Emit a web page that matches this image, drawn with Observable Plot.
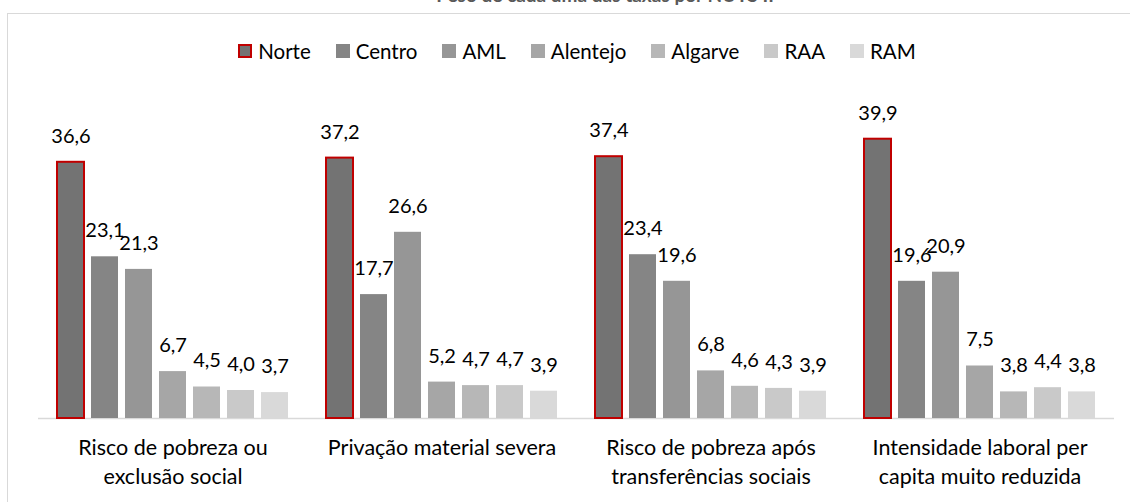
<!DOCTYPE html>
<html>
<head>
<meta charset="utf-8">
<script src="https://cdn.jsdelivr.net/npm/d3@7"></script>
<script src="https://cdn.jsdelivr.net/npm/@observablehq/plot@0.6"></script>
<style>
  html, body { margin: 0; padding: 0; background: #fff; }
  body { width: 1130px; height: 502px; overflow: hidden; position: relative; font-family: Lato, "Open Sans", sans-serif; }
  #frame { position: absolute; left: 7px; top: 13px; width: 1140px; height: 600px; border: 1px solid #d9d9d9; box-sizing: border-box; }
  #title { position: absolute; left: 0; width: 1210px; top: -17px; text-align: center; font-weight: bold; font-size: 19px; color: #595959; }
  #legend { position: absolute; top: 39px; left: 0; width: 1154px; display: flex; justify-content: center; gap: 25px; font-size: 20.5px; color: #000; }
  .item { display: flex; align-items: center; gap: 6px; }
  .sw { width: 14px; height: 14px; display: inline-block; box-sizing: border-box; }
  #chart { position: absolute; left: 0; top: 0; }
</style>
</head>
<body>
<div id="frame"></div>
<div id="title">Peso de cada uma das taxas por NUTS II</div>
<div id="legend"></div>
<div id="chart"></div>
<script>
const categories = [
  "Risco de pobreza ou exclusão social",
  "Privação material severa",
  "Risco de pobreza após transferências sociais",
  "Intensidade laboral per capita muito reduzida"
];
const categoryLines = [
  ["Risco de pobreza ou", "exclusão social"],
  ["Privação material severa"],
  ["Risco de pobreza após", "transferências sociais"],
  ["Intensidade laboral per", "capita muito reduzida"]
];
const regions = ["Norte", "Centro", "AML", "Alentejo", "Algarve", "RAA", "RAM"];
const colors = ["#737373", "#858585", "#969696", "#a6a6a6", "#b7b7b7", "#c9c9c9", "#d9d9d9"];
const riscoPobrezaExclusao = [36.6, 23.1, 21.3, 6.7, 4.5, 4.0, 3.7];
const privacaoMaterial = [37.2, 17.7, 26.6, 5.2, 4.7, 4.7, 3.9];
const riscoAposTransferencias = [37.4, 23.4, 19.6, 6.8, 4.6, 4.3, 3.9];
const intensidadeLaboral = [39.9, 19.6, 20.9, 7.5, 3.8, 4.4, 3.8];
const series = [riscoPobrezaExclusao, privacaoMaterial, riscoAposTransferencias, intensidadeLaboral];

const data = [];
categories.forEach((c, i) => regions.forEach((r, j) => data.push({category: c, region: r, value: series[i][j]})));

const fmt = v => v.toFixed(1).replace(".", ",");
const labelOf = new Map(categories.map((c, i) => [c, categoryLines[i].join("\n")]));

// legend
const legend = document.getElementById("legend");
regions.forEach((r, j) => {
  const it = document.createElement("div");
  it.className = "item";
  const sw = document.createElement("span");
  sw.className = "sw";
  sw.style.background = colors[j];
  if (r === "Norte") sw.style.border = "2px solid #c00000";
  it.appendChild(sw);
  const t = document.createElement("span");
  t.textContent = r;
  it.appendChild(t);
  legend.appendChild(it);
});

const chart = Plot.plot({
  width: 1130,
  height: 502,
  marginTop: 138,
  marginBottom: 84,
  marginLeft: 37,
  marginRight: 15,
  style: {fontFamily: "Lato, 'Open Sans', sans-serif", background: "transparent"},
  fx: {domain: categories, padding: 0, label: null},
  x: {domain: regions, paddingInner: 0.21, paddingOuter: 0.52, axis: null},
  y: {domain: [0, 40], axis: null},
  color: {domain: regions, range: colors},
  marks: [
    Plot.ruleY([0], {stroke: "#d9d9d9", strokeWidth: 1.5}),
    Plot.barY(data, {fx: "category", x: "region", y: "value", fill: "region",
      stroke: d => d.region === "Norte" ? "#c00000" : "none", strokeWidth: 2}),
    Plot.text(data, {fx: "category", x: "region", y: "value", text: d => fmt(d.value),
      dy: -26, fontSize: 20, fill: "#000"}),
    Plot.axisFx({anchor: "bottom", tickSize: 0, tickPadding: 16, fontSize: 21.5, lineHeight: 1.35,
      tickFormat: c => labelOf.get(c), label: null, fill: "#000"})
  ]
});
document.getElementById("chart").appendChild(chart);
</script>
</body>
</html>
